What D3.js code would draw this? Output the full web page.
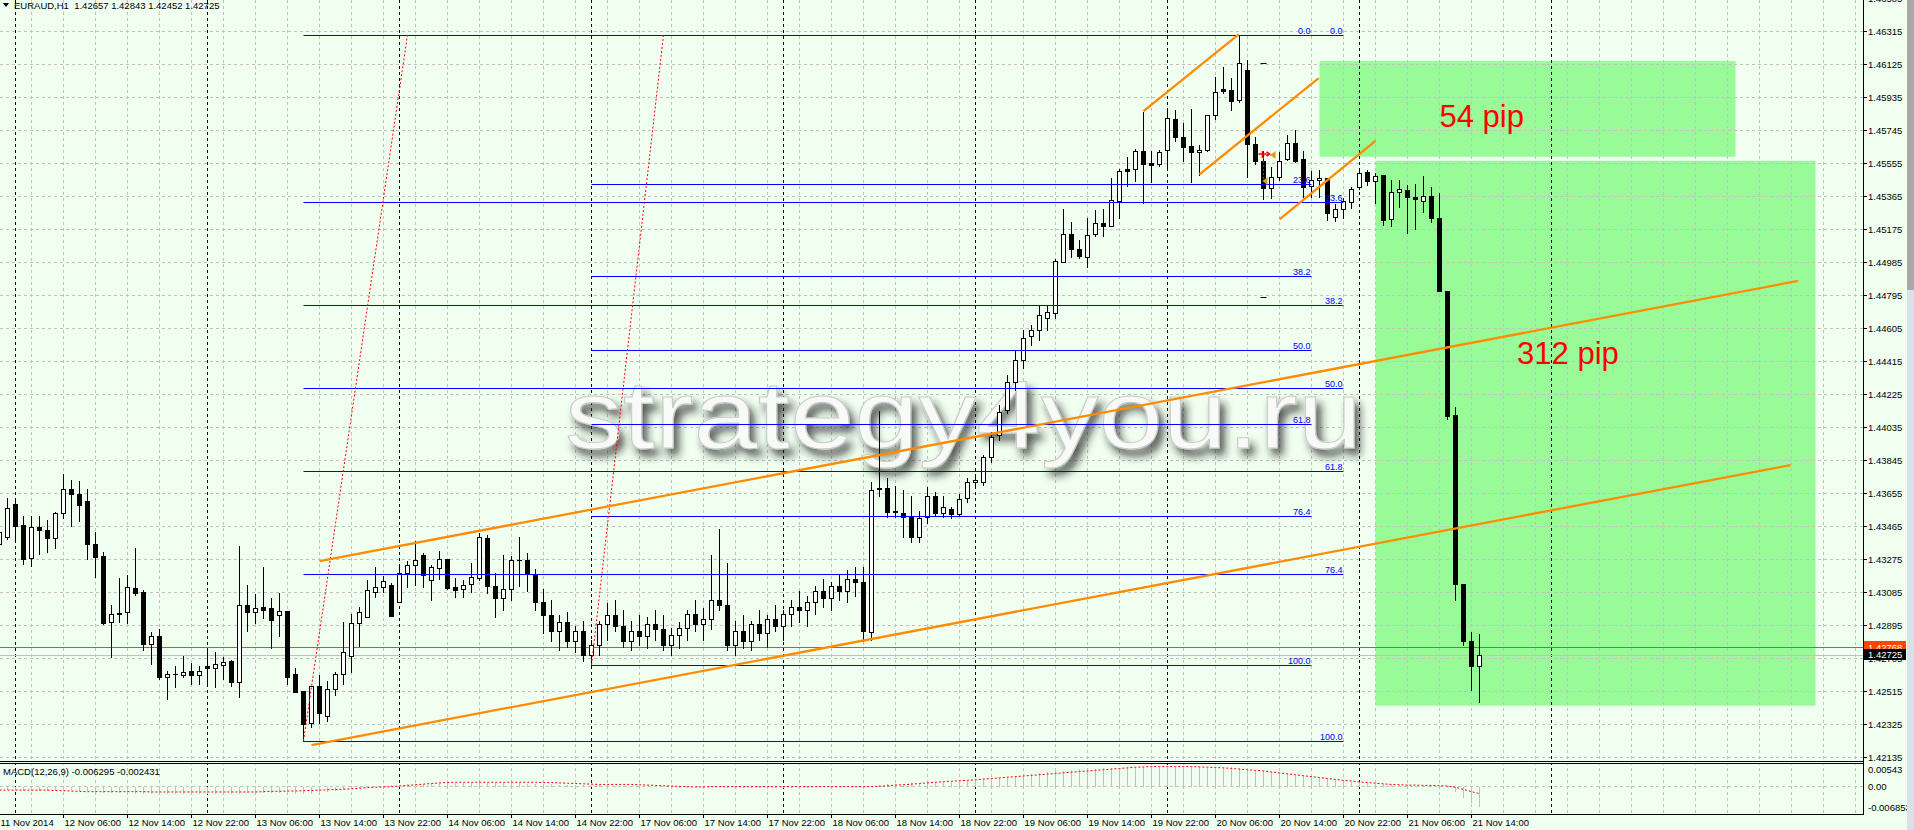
<!DOCTYPE html>
<html>
<head>
<meta charset="utf-8">
<script src="https://cdn.jsdelivr.net/npm/d3@7"></script>
<style>
 body { margin: 0; background: #f0fff0; overflow: hidden; }
 svg text { font-family: "Liberation Sans", Arial, sans-serif; }
</style>
</head>
<body>
<div id="chart"></div>
<script>
// EURAUD H1, one value per bar, first bar = 11 Nov 22:00
const opens = [
 1.43361,1.43402,1.43592,1.43471,1.43281,1.43459,1.43442,1.43396,1.43540,1.43678,
 1.43649,1.43609,1.43361,1.43292,1.42912,1.42958,1.42970,1.43108,1.43085,1.42786,
 1.42832,1.42596,1.42613,1.42607,1.42630,1.42607,1.42659,1.42647,1.42665,1.42688,
 1.42567,1.43010,1.42970,1.42999,1.42993,1.42953,1.42976,1.42613,1.42515,1.42331,
 1.42544,1.42371,1.42526,1.42613,1.42716,1.42907,1.42941,1.43085,1.43114,1.43125,
 1.43028,1.43194,1.43240,1.43298,1.43154,1.43223,1.43275,1.43114,1.43102,1.43131,
 1.43166,1.43396,1.43119,1.4305,1.4310,1.4327,1.4327,1.4319,1.4303,1.4295,
 1.4286,1.4291,1.4280,1.4286,1.4272,1.4278,1.4290,1.4295,1.4289,1.4280,
 1.4286,1.4283,1.4290,1.4287,1.4278,1.4284,1.4288,1.4296,1.4290,1.4293,
 1.4304,1.4301,1.4278,1.4286,1.4280,1.4290,1.4285,1.4293,1.4289,1.4296,
 1.4300,1.4298,1.4303,1.4309,1.4305,1.4312,1.4309,1.4316,1.4314,1.42855,
 1.43678,1.43684,1.43546,1.43540,1.43517,1.43402,1.43517,1.43639,1.43540,1.43563,
 1.43534,1.43626,1.43718,1.43718,1.43862,1.43989,1.44133,1.44294,1.44421,1.44559,
 1.44594,1.44663,1.44691,1.44985,1.45146,1.45060,1.45014,1.45146,1.45210,1.45192,
 1.45336,1.45520,1.45520,1.45624,1.45555,1.45549,1.45630,1.45808,1.45705,1.45653,
 1.45618,1.45630,1.45831,1.45981,1.45975,1.45918,1.46090,1.45664,1.45566,1.45411,
 1.45474,1.45578,1.45670,1.45578,1.45422,1.45457,1.45469,1.45244,1.45290,1.45331,
 1.45417,1.45503,1.45451,1.45486,1.45233,1.45388,1.45399,1.45359,1.45336,1.45365,
 1.45238,1.44818,1.44104,1.43131,1.42803,1.42657
];
const highs = [
 1.43442,1.43626,1.43609,1.43523,1.43523,1.43523,1.43500,1.43546,1.43764,1.43730,
 1.43724,1.43678,1.43431,1.43315,1.43010,1.43166,1.43183,1.43338,1.43096,1.42855,
 1.42872,1.42630,1.42659,1.42716,1.42676,1.42659,1.42757,1.42740,1.42711,1.42693,
 1.43350,1.43125,1.43073,1.43229,1.43050,1.43079,1.42976,1.42647,1.42515,1.42544,
 1.42607,1.42572,1.42624,1.42912,1.42958,1.42999,1.43154,1.43229,1.43177,1.43137,
 1.43229,1.43263,1.43379,1.43310,1.43240,1.43321,1.43275,1.43166,1.43154,1.43252,
 1.43425,1.43413,1.43194,1.4330,1.4329,1.4340,1.4331,1.4322,1.4310,1.4304,
 1.4295,1.4297,1.4289,1.4292,1.4281,1.4292,1.4302,1.4304,1.4298,1.4292,
 1.4295,1.4294,1.4298,1.4295,1.4288,1.4291,1.4298,1.4304,1.4299,1.4330,
 1.4345,1.4325,1.4292,1.4295,1.4292,1.4298,1.4295,1.4301,1.4298,1.4304,
 1.4309,1.4306,1.4312,1.4316,1.4314,1.4318,1.4321,1.4323,1.4323,1.43718,
 1.44127,1.43741,1.43695,1.43672,1.43639,1.43552,1.43690,1.43661,1.43639,1.43575,
 1.43650,1.43741,1.43759,1.43874,1.44006,1.44162,1.44334,1.44478,1.44594,1.44622,
 1.44738,1.44738,1.45002,1.45290,1.45215,1.45112,1.45238,1.45285,1.45290,1.45469,
 1.45520,1.45590,1.45636,1.45849,1.45624,1.45630,1.45860,1.45860,1.45785,1.45866,
 1.45659,1.45831,1.46050,1.46108,1.46044,1.46292,1.46148,1.45705,1.45624,1.45532,
 1.45618,1.45716,1.45745,1.45624,1.45509,1.45515,1.45469,1.45319,1.45353,1.45417,
 1.45520,1.45515,1.45497,1.45486,1.45457,1.45457,1.45428,1.45434,1.45480,1.45417,
 1.45382,1.44818,1.44150,1.43131,1.42855,1.42843
];
const lows = [
 1.43338,1.43390,1.43390,1.43246,1.43235,1.43304,1.43315,1.43338,1.43511,1.43465,
 1.43494,1.43275,1.43171,1.42901,1.42711,1.42912,1.42907,1.43068,1.42751,1.42670,
 1.42584,1.42469,1.42538,1.42596,1.42555,1.42555,1.42561,1.42538,1.42584,1.42544,
 1.42480,1.42860,1.42907,1.42935,1.42763,1.42832,1.42555,1.42509,1.42227,1.42308,
 1.42331,1.42342,1.42492,1.42555,1.42624,1.42774,1.42941,1.43056,1.43085,1.42947,
 1.43028,1.43114,1.43125,1.43114,1.43039,1.43160,1.43102,1.43056,1.43056,1.43085,
 1.43154,1.43079,1.42941,1.4298,1.4304,1.4312,1.4309,1.4298,1.4285,1.4280,
 1.4275,1.4277,1.4274,1.4269,1.42665,1.4272,1.4281,1.4286,1.4277,1.4275,
 1.4278,1.4276,1.4281,1.4275,1.4272,1.4276,1.4281,1.4286,1.4281,1.4287,
 1.4298,1.4275,1.4272,1.4276,1.4275,1.4281,1.4277,1.4286,1.4281,1.4289,
 1.4291,1.4289,1.4296,1.4300,1.4298,1.4304,1.4303,1.4306,1.4280,1.42809,
 1.43639,1.43517,1.43517,1.43402,1.43373,1.43373,1.43482,1.43523,1.43517,1.43511,
 1.43523,1.43603,1.43701,1.43701,1.43834,1.43960,1.44116,1.44248,1.44375,1.44507,
 1.44536,1.44594,1.44663,1.44985,1.45014,1.45008,1.44956,1.45135,1.45135,1.45192,
 1.45238,1.45422,1.45451,1.45325,1.45446,1.45538,1.45532,1.45682,1.45566,1.45446,
 1.45486,1.45624,1.45808,1.45958,1.45860,1.45906,1.45474,1.45549,1.45348,1.45353,
 1.45457,1.45572,1.45561,1.45359,1.45359,1.45359,1.45227,1.45221,1.45238,1.45296,
 1.45405,1.45428,1.45325,1.45198,1.45192,1.45302,1.45152,1.45175,1.45273,1.45215,
 1.44818,1.44081,1.43039,1.42780,1.42521,1.42452
];
const closes = [
 1.43431,1.43569,1.43465,1.43275,1.43459,1.43442,1.43396,1.43540,1.43678,1.43649,
 1.43586,1.43361,1.43287,1.42907,1.42958,1.42964,1.43114,1.43079,1.42786,1.42832,
 1.42596,1.42613,1.42613,1.42624,1.42607,1.42630,1.42647,1.42670,1.42682,1.42567,
 1.43010,1.42970,1.42993,1.42981,1.42924,1.42976,1.42596,1.42509,1.42325,1.42544,
 1.42388,1.42526,1.42613,1.42740,1.42907,1.42970,1.43096,1.43114,1.43148,1.42947,
 1.43194,1.43240,1.43269,1.43183,1.43229,1.43275,1.43108,1.43096,1.43125,1.43171,
 1.43402,1.43119,1.43050,1.4310,1.4327,1.4327,1.4319,1.4303,1.4295,1.4286,
 1.4291,1.4280,1.4286,1.4272,1.4278,1.4290,1.4295,1.4289,1.4280,1.4286,
 1.4283,1.4290,1.4287,1.4278,1.4284,1.4288,1.4296,1.4290,1.4293,1.4304,
 1.4301,1.4278,1.4286,1.4280,1.4290,1.4285,1.4293,1.4289,1.4296,1.4300,
 1.4298,1.4303,1.4309,1.4305,1.4312,1.4309,1.4316,1.4314,1.4286,1.43672,
 1.43684,1.43546,1.43552,1.43517,1.43402,1.43511,1.43639,1.43540,1.43575,1.43534,
 1.43620,1.43718,1.43730,1.43862,1.43978,1.44122,1.44294,1.44421,1.44547,1.44594,
 1.44680,1.44697,1.44991,1.45146,1.45060,1.45020,1.45141,1.45210,1.45192,1.45342,
 1.45509,1.45509,1.45624,1.45549,1.45543,1.45618,1.45814,1.45705,1.45647,1.45618,
 1.45630,1.45831,1.45964,1.45969,1.45912,1.46131,1.45664,1.45566,1.45411,1.45474,
 1.45566,1.45670,1.45566,1.45417,1.45457,1.45469,1.45267,1.45290,1.45336,1.45405,
 1.45497,1.45451,1.45480,1.45227,1.45388,1.45405,1.45359,1.45348,1.45365,1.45238,
 1.44818,1.44098,1.43131,1.42803,1.42659,1.42725
];

// MACD(12,26,9): main (histogram) and signal
const macdMain = [
 -0.0010,-0.0010,-0.0011,-0.0012,-0.0012,-0.0013,-0.0013,-0.0012,-0.0011,-0.0011,-0.0012,-0.0014,-0.0016,-0.0018,-0.0019,-0.0020,
 -0.0021,-0.0021,-0.0022,-0.0022,-0.0023,-0.0023,-0.0023,-0.0023,-0.0023,-0.0023,-0.0023,-0.0023,-0.0023,-0.0022,-0.0021,-0.0020,
 -0.0020,-0.0020,-0.0020,-0.0019,-0.0020,-0.0021,-0.0022,-0.0021,-0.0019,-0.0016,-0.0013,-0.0010,-0.0007,-0.0004,-0.0001,0.0001,
 0.0003,0.0005,0.0007,0.0009,0.0010,0.0011,0.0012,0.0012,0.0013,0.0013,0.0013,0.0014,0.0015,0.0014,0.0013,0.0012,
 0.0012,0.0012,0.0011,0.0011,0.0010,0.0009,0.0008,0.0007,0.0006,0.0005,0.0005,0.0005,0.0005,0.0004,0.0004,0.0003,
 0.0002,0.0001,0.0000,-0.0001,-0.0002,-0.0002,-0.0002,-0.0002,-0.0002,-0.0001,-0.0001,-0.0002,-0.0002,-0.0002,-0.0002,-0.0002,
 -0.0002,-0.0002,-0.0002,-0.0002,-0.0002,-0.0002,-0.0001,-0.0001,-0.0001,-0.0001,-0.0001,-0.0001,-0.0002,0.0004,0.0007,0.0009,
 0.0010,0.0011,0.0012,0.0013,0.0014,0.0015,0.0016,0.0017,0.0018,0.0020,0.0022,0.0024,0.0027,0.0030,0.0033,0.0036,
 0.0039,0.0042,0.0044,0.0047,0.0050,0.0052,0.0054,0.0056,0.0058,0.0059,0.0060,0.0061,0.0062,0.0063,0.0064,0.0064,
 0.0064,0.0064,0.0064,0.0064,0.0063,0.0063,0.0063,0.0062,0.0062,0.0062,0.0063,0.0061,0.0058,0.0055,0.0052,0.0049,
 0.0045,0.0042,0.0039,0.0036,0.0033,0.0029,0.0026,0.0023,0.0020,0.0017,0.0015,0.0013,0.0011,0.0009,0.0007,0.0006,
 0.0005,0.0004,0.0003,0.0002,0.0001,-0.0004,-0.0017,-0.0036,-0.0052,-0.006295
];
const macdSignal = [
 -0.0013,-0.0013,-0.0013,-0.0013,-0.0013,-0.0013,-0.0013,-0.0014,-0.0015,-0.0016,-0.0017,-0.0018,-0.0018,-0.0018,-0.0018,-0.0018,
 -0.0018,-0.0018,-0.0018,-0.0019,-0.0019,-0.0019,-0.0019,-0.0019,-0.0019,-0.0019,-0.0019,-0.0019,-0.0019,-0.0019,-0.0019,-0.0019,
 -0.0019,-0.0018,-0.0017,-0.0017,-0.0016,-0.0016,-0.0015,-0.0014,-0.0013,-0.0012,-0.0011,-0.0010,-0.0009,-0.0007,-0.0005,-0.0004,
 -0.0003,-0.0002,0.0000,0.0002,0.0004,0.0006,0.0008,0.0010,0.0011,0.0012,0.0012,0.0012,0.0012,0.0012,0.0012,0.0012,
 0.0012,0.0012,0.0012,0.0012,0.0011,0.0011,0.0010,0.0009,0.0008,0.0007,0.0006,0.0005,0.0005,0.0005,0.0005,0.0005,
 0.0004,0.0003,0.0002,0.0001,0.0000,-0.0001,-0.0002,-0.0003,-0.0003,-0.0002,-0.0002,-0.0002,-0.0002,-0.0002,-0.0002,-0.0002,
 -0.0002,-0.0002,-0.0002,-0.0002,-0.0002,-0.0002,-0.0002,-0.0002,-0.0002,-0.0002,-0.0002,-0.0002,-0.0002,-0.0002,-0.0001,0.0001,
 0.0003,0.0004,0.0006,0.0008,0.0010,0.0012,0.0014,0.0015,0.0017,0.0018,0.0020,0.0022,0.0024,0.0026,0.0028,0.0030,
 0.0032,0.0034,0.0036,0.0038,0.0040,0.0042,0.0044,0.0046,0.0048,0.0050,0.0052,0.0054,0.0056,0.0058,0.0060,0.0061,
 0.0062,0.0062,0.0062,0.0062,0.0062,0.0062,0.0061,0.0060,0.0059,0.0058,0.0056,0.0054,0.0052,0.0050,0.0048,0.0045,
 0.0042,0.0039,0.0036,0.0033,0.0030,0.0027,0.0024,0.0021,0.0018,0.0016,0.0013,0.0011,0.0009,0.0007,0.0005,0.0004,
 0.0003,0.0003,0.0002,0.0002,0.0001,0.0000,-0.0004,-0.0011,-0.0018,-0.002431
];

const priceTicks = [1.42135,1.42325,1.42515,1.42705,1.42895,1.43085,1.43275,1.43465,1.43655,1.43845,1.44035,
 1.44225,1.44415,1.44605,1.44795,1.44985,1.45175,1.45365,1.45555,1.45745,1.45935,1.46125,1.46315,1.46505];
const macdTicks = [0.00543, 0, -0.006853];
const macdTickLabels = ["0.00543", "0.00", "-0.006853"];
const timeLabels = ["11 Nov 2014","12 Nov 06:00","12 Nov 14:00","12 Nov 22:00","13 Nov 06:00","13 Nov 14:00",
 "13 Nov 22:00","14 Nov 06:00","14 Nov 14:00","14 Nov 22:00","17 Nov 06:00","17 Nov 14:00","17 Nov 22:00",
 "18 Nov 06:00","18 Nov 14:00","18 Nov 22:00","19 Nov 06:00","19 Nov 14:00","19 Nov 22:00","20 Nov 06:00",
 "20 Nov 14:00","20 Nov 22:00","21 Nov 06:00","21 Nov 14:00"];
const dayStartBars = [2, 26, 50, 74, 98, 122, 146, 170, 194];

// chart objects, anchored by bar index and price
const fibLevels = [0, 23.6, 38.2, 50, 61.8, 76.4, 100];
const fibLabels = ["0.0", "23.6", "38.2", "50.0", "61.8", "76.4", "100.0"];
const fibFrom = [38, 74], fibTo = [168, 164], fibDiagTo = [51, 83];
const fibLow = [1.42227, 1.42665], fibHigh = [1.46292, 1.46292];
const trendFrom = [[40.0, 1.43263], [39.0, 1.42204], [143.0, 1.45854], [150.0, 1.45490], [160.0, 1.45231]];
const trendTo = [[224.8, 1.44876], [223.9, 1.43816], [154.9, 1.46296], [164.9, 1.46044], [172.0, 1.45683]];
const boxFrom = [[165, 1.46142], [172, 1.45568]];
const boxTo = [[217, 1.45591], [227, 1.42431]];
const notes = ["54 pip", "312 pip"];
const noteAt = [[180, 1.45762], [189.7, 1.44398]];
const levelLine = 1.42768, bidPrice = 1.42725;

(function () {
 const width = 1914, height = 830;
 const axisX = 1863, paneBottom = 761, macdTop = 764, macdBottom = 814;

 const x = d3.scaleLinear().domain([0, 240]).range([-0.5, 1919.5]); // 8 px per bar
 const y = d3.scaleLinear().domain([1.42135, 1.46315]).range([757, 31]);
 const ym = d3.scaleLinear().domain([-0.006853, 0.00543]).range([807.5, 769]);
 const px = v => Math.round(v) + 0.5;

 const svg = d3.select("#chart").append("svg")
  .attr("width", width).attr("height", height);

 const defs = svg.append("defs");
 defs.append("clipPath").attr("id", "clipMain")
  .append("rect").attr("x", 0).attr("y", 0).attr("width", axisX).attr("height", paneBottom);
 defs.append("clipPath").attr("id", "clipMacd")
  .append("rect").attr("x", 0).attr("y", macdTop).attr("width", axisX).attr("height", macdBottom - macdTop);
 const f = defs.append("filter").attr("id", "wm")
  .attr("x", "-5%").attr("y", "-30%").attr("width", "115%").attr("height", "180%");
 f.append("feGaussianBlur").attr("in", "SourceAlpha").attr("stdDeviation", 4).attr("result", "b");
 f.append("feOffset").attr("in", "b").attr("dx", 5).attr("dy", 7).attr("result", "o");
 f.append("feFlood").attr("flood-color", "#1e1e1e").attr("flood-opacity", 0.75);
 f.append("feComposite").attr("in2", "o").attr("operator", "in").attr("result", "s");
 const m = f.append("feMerge");
 m.append("feMergeNode").attr("in", "s");
 m.append("feMergeNode").attr("in", "SourceGraphic");

 svg.append("rect").attr("width", width).attr("height", height).attr("fill", "#f0fff0");

 const main = svg.append("g").attr("clip-path", "url(#clipMain)");
 const macd = svg.append("g").attr("clip-path", "url(#clipMacd)");

 // green zones
 main.selectAll(".box").data(boxFrom).enter().append("rect")
  .attr("x", (d) => x(d[0])).attr("y", (d) => y(d[1]))
  .attr("width", (d, i) => x(boxTo[i][0]) - x(d[0]))
  .attr("height", (d, i) => y(boxTo[i][1]) - y(d[1]))
  .attr("fill", "#98fb98");

 // grid
 const vGrid = d3.range(0, 236, 4);
 [main, macd].forEach((g) => {
  g.selectAll(".vg").data(vGrid).enter().append("line")
   .attr("x1", (d) => x(d)).attr("x2", (d) => x(d))
   .attr("y1", 0).attr("y2", macdBottom)
   .attr("stroke", "#c0c0c0").attr("stroke-dasharray", "3,3").attr("shape-rendering", "crispEdges");
  g.selectAll(".ds").data(dayStartBars).enter().append("line")
   .attr("x1", (d) => x(d)).attr("x2", (d) => x(d))
   .attr("y1", 0).attr("y2", macdBottom)
   .attr("stroke", "#000").attr("stroke-dasharray", "3,3").attr("shape-rendering", "crispEdges");
 });
 main.selectAll(".hg").data(priceTicks).enter().append("line")
  .attr("x1", 0).attr("x2", axisX)
  .attr("y1", (d) => px(y(d))).attr("y2", (d) => px(y(d)))
  .attr("stroke", "#c0c0c0").attr("stroke-dasharray", "3,3");
 macd.append("line").attr("x1", 0).attr("x2", axisX)
  .attr("y1", px(ym(0))).attr("y2", px(ym(0)))
  .attr("stroke", "#c0c0c0").attr("stroke-dasharray", "3,3");

 // watermark
 main.append("text").attr("x", 565).attr("y", 448)
  .attr("font-family", "'DejaVu Sans', sans-serif").attr("font-size", 96)
  .attr("textLength", 797).attr("lengthAdjust", "spacingAndGlyphs")
  .attr("fill", "#f7faf7").attr("stroke", "#c8cbc8").attr("stroke-width", 1)
  .attr("filter", "url(#wm)")
  .text("strategy4you.ru");

 // bid line and horizontal level
 main.append("line").attr("x1", 0).attr("x2", axisX)
  .attr("y1", px(y(bidPrice))).attr("y2", px(y(bidPrice))).attr("stroke", "#c0c0c0");
 main.append("line").attr("x1", 0).attr("x2", axisX)
  .attr("y1", px(y(levelLine))).attr("y2", px(y(levelLine))).attr("stroke", "#ff4500");

 // candles
 const bars = d3.range(opens.length);
 const cg = main.append("g").attr("shape-rendering", "crispEdges");
 cg.selectAll(".wick").data(bars).enter().append("line")
  .attr("x1", (i) => x(i)).attr("x2", (i) => x(i))
  .attr("y1", (i) => Math.round(y(highs[i]))).attr("y2", (i) => Math.round(y(lows[i])) + 1)
  .attr("stroke", "#000");
 cg.selectAll(".body").data(bars).enter().append("rect")
  .attr("x", (i) => x(i) - 2).attr("width", 4)
  .attr("y", (i) => px(y(Math.max(opens[i], closes[i]))))
  .attr("height", (i) => Math.max(0.01, Math.round(y(Math.min(opens[i], closes[i]))) - Math.round(y(Math.max(opens[i], closes[i])))))
  .attr("fill", (i) => (closes[i] >= opens[i] ? "#fff" : "#000"))
  .attr("stroke", "#000");

 // fibonacci
 fibFrom.forEach((from, k) => {
  const range = fibHigh[k] - fibLow[k];
  const g = main.append("g");
  g.selectAll("line").data(fibLevels).enter().append("line")
   .attr("x1", x(from)).attr("x2", x(fibTo[k]))
   .attr("y1", (d) => px(y(fibHigh[k] - range * d / 100)))
   .attr("y2", (d) => px(y(fibHigh[k] - range * d / 100)))
   .attr("stroke", "#0000ff");
  g.selectAll("text").data(fibLevels).enter().append("text")
   .attr("x", x(fibTo[k]) - 1)
   .attr("y", (d) => px(y(fibHigh[k] - range * d / 100)) - 2)
   .attr("text-anchor", "end").attr("font-size", 9).attr("fill", "#0000ff")
   .text((d, j) => fibLabels[j]);
  g.append("line")
   .attr("x1", x(from)).attr("y1", y(fibLow[k]))
   .attr("x2", x(fibDiagTo[k])).attr("y2", y(fibHigh[k]))
   .attr("stroke", "#ff0000").attr("stroke-dasharray", "2,2");
 });

 // trend lines
 main.selectAll(".trend").data(trendFrom).enter().append("line")
  .attr("x1", (d) => x(d[0])).attr("y1", (d) => y(d[1]))
  .attr("x2", (d, i) => x(trendTo[i][0])).attr("y2", (d, i) => y(trendTo[i][1]))
  .attr("stroke", "#ff8c00").attr("stroke-width", 2.3);

 // trade marks
 const tx = x(158);
 main.append("path")
  .attr("d", `M${tx - 1},${y(1.45601)} L${tx + 10},${y(1.45601)} M${tx},${y(1.45590)} L${tx},${y(1.45451)}`)
  .attr("stroke", "#ff0000").attr("stroke-dasharray", "2,2").attr("fill", "none");
 main.append("path")
  .attr("d", `M${tx - 5},${y(1.45601) - 1} h8 M${tx - 1},${y(1.45601) - 4} v7 M${tx + 3},${y(1.45601) - 3} l3,2 l-3,2`)
  .attr("stroke", "#ff0000").attr("stroke-width", 1.6).attr("fill", "none");
 [[tx + 11, y(1.45601)], [tx + 3, y(1.45451)]].forEach((p) => {
  main.append("path").attr("d", `M${p[0] - 4},${p[1]} l5,-4 v8 z`).attr("fill", "#d4a017");
 });
 [1.46131, 1.44783].forEach((p) => {
  main.append("line").attr("x1", tx - 3).attr("x2", tx + 3)
   .attr("y1", px(y(p))).attr("y2", px(y(p))).attr("stroke", "#000");
 });

 // pip notes
 main.selectAll(".note").data(notes).enter().append("text")
  .attr("x", (d, i) => x(noteAt[i][0])).attr("y", (d, i) => y(noteAt[i][1]))
  .attr("font-family", "'Liberation Sans', Arial, sans-serif")
  .attr("font-size", 31).attr("fill", "#ff0000")
  .text((d) => d);

 // MACD
 macd.selectAll(".hist").data(bars).enter().append("line")
  .attr("x1", (i) => x(i)).attr("x2", (i) => x(i))
  .attr("y1", px(ym(0))).attr("y2", (i) => Math.round(ym(macdMain[i])) + 0.5)
  .attr("stroke", "#c0c0c0").attr("shape-rendering", "crispEdges");
 macd.append("path")
  .datum(bars)
  .attr("d", d3.line().x((i) => x(i)).y((i) => ym(macdSignal[i])))
  .attr("fill", "none").attr("stroke", "#ff0000").attr("stroke-dasharray", "2,2");

 // frames
 const frame = svg.append("g").attr("shape-rendering", "crispEdges");
 frame.append("line").attr("x1", 0).attr("x2", axisX).attr("y1", paneBottom + 0.5).attr("y2", paneBottom + 0.5).attr("stroke", "#000");
 frame.append("line").attr("x1", 0).attr("x2", axisX).attr("y1", macdTop - 0.5).attr("y2", macdTop - 0.5).attr("stroke", "#000");
 frame.append("line").attr("x1", 0).attr("x2", axisX).attr("y1", macdBottom + 0.5).attr("y2", macdBottom + 0.5).attr("stroke", "#000");
 frame.append("line").attr("x1", axisX + 0.5).attr("x2", axisX + 0.5).attr("y1", 0).attr("y2", macdBottom + 1).attr("stroke", "#000");

 // price axis
 const pa = svg.append("g");
 pa.selectAll("line").data(priceTicks).enter().append("line")
  .attr("x1", axisX).attr("x2", axisX + 4)
  .attr("y1", (d) => px(y(d))).attr("y2", (d) => px(y(d)))
  .attr("stroke", "#000").attr("shape-rendering", "crispEdges");
 pa.selectAll("text").data(priceTicks).enter().append("text")
  .attr("x", axisX + 5).attr("y", (d) => y(d) + 3.5)
  .attr("font-size", 9.5).attr("fill", "#000")
  .text((d) => d.toFixed(5));
 [[levelLine, "#ff4500"], [bidPrice, "#000"]].forEach((p) => {
  pa.append("rect").attr("x", axisX + 1).attr("y", Math.round(y(p[0])) - 6)
   .attr("width", 42).attr("height", 11).attr("fill", p[1]);
  pa.append("text").attr("x", axisX + 5).attr("y", y(p[0]) + 3.5)
   .attr("font-size", 9.5).attr("fill", "#fff").text(p[0].toFixed(5));
 });
 pa.selectAll(".mt").data(macdTicks).enter().append("text")
  .attr("x", axisX + 5).attr("y", (d) => ym(d) + 3.5)
  .attr("font-size", 9.5).attr("fill", "#000")
  .text((d, i) => macdTickLabels[i]);

 // time axis
 const ta = svg.append("g");
 ta.selectAll("line").data(timeLabels).enter().append("line")
  .attr("x1", (d, i) => x(i * 8)).attr("x2", (d, i) => x(i * 8))
  .attr("y1", macdBottom).attr("y2", macdBottom + 4)
  .attr("stroke", "#000").attr("shape-rendering", "crispEdges");
 ta.selectAll("text").data(timeLabels).enter().append("text")
  .attr("x", (d, i) => Math.max(0, x(i * 8) + 1)).attr("y", 826)
  .attr("font-size", 9.5).attr("fill", "#000")
  .text((d) => d);

 // headers
 svg.append("path").attr("d", "M3,3 L9,3 L6,7 Z").attr("fill", "#000");
 svg.append("text").attr("x", 14).attr("y", 9).attr("font-size", 9.5).attr("fill", "#000")
  .attr("xml:space", "preserve")
  .text("EURAUD,H1  " + [opens, highs, lows, closes].map((a) => a[a.length - 1].toFixed(5)).join(" "));
 svg.append("text").attr("x", 3).attr("y", 775).attr("font-size", 9.5).attr("fill", "#000")
  .text("MACD(12,26,9) " + macdMain[macdMain.length - 1].toFixed(6) + " " + macdSignal[macdSignal.length - 1].toFixed(6));

 // scrollbar
 svg.append("rect").attr("x", 1907).attr("y", 0).attr("width", 7).attr("height", 290).attr("fill", "#a9a9a9");
 svg.append("rect").attr("x", 1907).attr("y", 290).attr("width", 7).attr("height", 540).attr("fill", "#d8e0ea");
})();
</script>
</body>
</html>
